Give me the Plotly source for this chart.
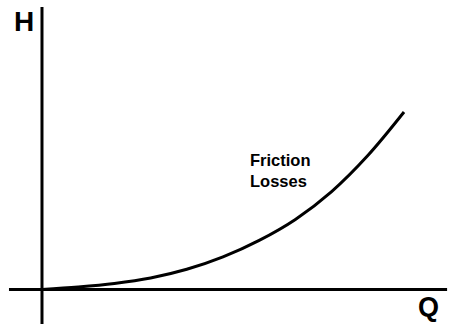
import plotly.graph_objects as go

# Friction-loss curve: head H against flow Q (arbitrary units)
flow_q = [0, 1, 2, 3, 4, 5, 6, 7, 8, 9, 10]
head_h = [0.0, 0.14, 0.34, 0.65, 1.14, 1.84, 2.77, 3.95, 5.52, 7.55, 10.0]

W, H = 451, 324
x_range = [-1.160, 11.298]
y_range = [-1.944, 16.31]

fig = go.Figure()
fig.add_trace(go.Scatter(
    x=flow_q, y=head_h, mode="lines",
    line=dict(color="black", width=3, shape="spline", smoothing=1.0),
    hoverinfo="skip", showlegend=False,
))

# Hand-drawn style axes
fig.add_shape(type="line", x0=0, x1=0, y0=y_range[0], y1=15.92,
              line=dict(color="black", width=3))
fig.add_shape(type="line", x0=-0.912, x1=11.19, y0=0, y1=0,
              line=dict(color="black", width=3))

axis_font = "Liberation Sans Narrow, Arial Narrow, Liberation Sans, Arial, sans-serif"
label_font = "Liberation Sans, Arial, sans-serif"
fig.add_annotation(text="<b>H</b>", x=24 / W, y=1 - 21.5 / H, xref="paper", yref="paper",
                   xanchor="center", yanchor="middle",
                   showarrow=False, font=dict(family=axis_font, size=28, color="black"))
fig.add_annotation(text="<b>Q</b>", x=428 / W, y=1 - 307 / H, xref="paper", yref="paper",
                   xanchor="center", yanchor="middle",
                   showarrow=False, font=dict(family=axis_font, size=27, color="black"))
fig.add_annotation(text="<b>Friction</b><br><b>Losses</b>", x=248 / W, y=1 - 170 / H,
                   xref="paper", yref="paper", xanchor="left", yanchor="middle", align="left",
                   showarrow=False, font=dict(family=label_font, size=16.5, color="black"))

fig.update_layout(
    width=W, height=H, margin=dict(l=0, r=0, t=0, b=0),
    paper_bgcolor="white", plot_bgcolor="white",
    xaxis=dict(range=x_range, visible=False, fixedrange=True),
    yaxis=dict(range=y_range, visible=False, fixedrange=True),
)
fig.write_html("out.html", config={"displayModeBar": False})
